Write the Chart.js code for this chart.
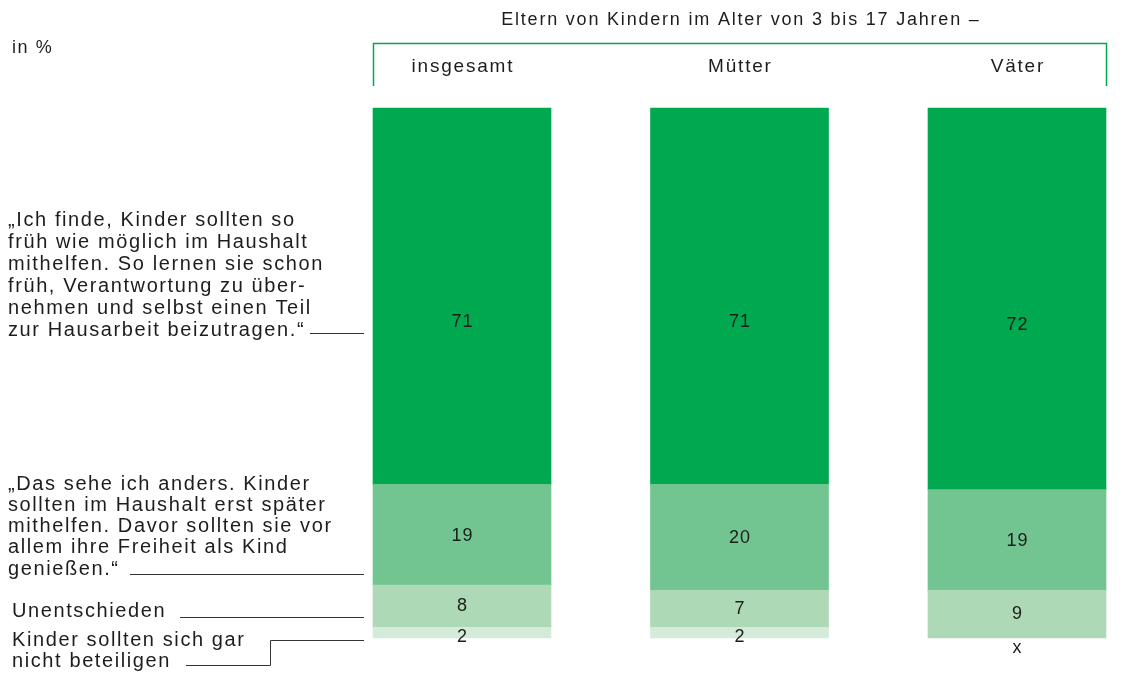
<!DOCTYPE html>
<html>
<head>
<meta charset="utf-8">
<script src="https://cdn.jsdelivr.net/npm/chart.js@4/dist/chart.umd.min.js"></script>
<style>
html,body{margin:0;padding:0;background:#fff;}
canvas{display:block;}
</style>
</head>
<body>
<canvas id="c" width="1140" height="673"></canvas>
<script>
// ---- data ----
const categories = ["insgesamt", "Mütter", "Väter"];
const headerTitle = "Eltern von Kindern im Alter von 3 bis 17 Jahren –";
const unitLabel = "in %";
const frueh = [71, 71, 72];
const anders = [19, 20, 19];
const unentschieden = [8, 7, 9];
const garNicht = [2, 2, null];
const missingMark = "x";
const labelFrueh = ["„Ich finde, Kinder sollten so", "früh wie möglich im Haushalt", "mithelfen. So lernen sie schon", "früh, Verantwortung zu über-", "nehmen und selbst einen Teil", "zur Hausarbeit beizutragen.“"];
const labelAnders = ["„Das sehe ich anders. Kinder", "sollten im Haushalt erst später", "mithelfen. Davor sollten sie vor", "allem ihre Freiheit als Kind", "genießen.“"];
const labelUnent = ["Unentschieden"];
const labelGarNicht = ["Kinder sollten sich gar", "nicht beteiligen"];

// ---- styles ----
const GREEN = "#00a84f";
const colors = ["#d4ebda", "#aed9b6", "#72c491", GREEN];
const FONT = "'Liberation Sans', Arial, sans-serif";
const TXT = "#1d1d1b";

function centerText(ctx, t, x, y, spacing) {
  ctx.letterSpacing = spacing + "px";
  const w = ctx.measureText(t).width - spacing;
  ctx.textAlign = "left";
  ctx.fillText(t, x - w / 2, y);
}

const overlay = {
  id: "overlay",
  afterDatasetsDraw(chart) {
    const ctx = chart.ctx;
    ctx.save();
    ctx.fillStyle = TXT;
    ctx.textBaseline = "middle";
    // value labels
    ctx.font = "18px " + FONT;
    const yOffsets = [4, 0, 1, 26];
    chart.data.datasets.forEach((ds, di) => {
      const meta = chart.getDatasetMeta(di);
      meta.data.forEach((el, i) => {
        const v = ds.data[i];
        if (v === null || v === undefined) {
          centerText(ctx, missingMark, el.x, el.base + 10, 1);
          return;
        }
        const mid = (el.y + el.base) / 2 + yOffsets[di];
        centerText(ctx, String(v), el.x, mid, 1);
      });
    });

    // header
    ctx.font = "18px " + FONT;
    centerText(ctx, headerTitle, 740, 20, 1.8);
    const m0 = chart.getDatasetMeta(0).data;
    ctx.font = "19px " + FONT;
    categories.forEach((c, i) => {
      centerText(ctx, c, m0[i].x, 67, 1.8);
    });
    ctx.strokeStyle = GREEN;
    ctx.lineWidth = 1.5;
    ctx.beginPath();
    ctx.moveTo(373.5, 86);
    ctx.lineTo(373.5, 43.5);
    ctx.lineTo(1106.5, 43.5);
    ctx.lineTo(1106.5, 86);
    ctx.stroke();

    // left text
    ctx.textAlign = "left";
    ctx.letterSpacing = "1.6px";
    ctx.font = "18px " + FONT;
    ctx.fillText(unitLabel, 12, 48);
    ctx.font = "20px " + FONT;
    labelFrueh.forEach((t, i) => ctx.fillText(t, 8, 220 + i * 22));
    labelAnders.forEach((t, i) => ctx.fillText(t, 8, 484 + i * 21.3));
    labelUnent.forEach((t) => ctx.fillText(t, 12, 611));
    labelGarNicht.forEach((t, i) => ctx.fillText(t, 12, 640 + i * 21));

    // leader lines
    ctx.strokeStyle = "#333";
    ctx.lineWidth = 1;
    ctx.beginPath();
    ctx.moveTo(310, 333.5); ctx.lineTo(364, 333.5);
    ctx.moveTo(130, 574.5); ctx.lineTo(364, 574.5);
    ctx.moveTo(180, 617.5); ctx.lineTo(364, 617.5);
    ctx.moveTo(186, 665.5); ctx.lineTo(270.5, 665.5); ctx.lineTo(270.5, 640.5); ctx.lineTo(364, 640.5);
    ctx.stroke();
    ctx.restore();
  }
};

const series = [garNicht, unentschieden, anders, frueh];
new Chart(document.getElementById("c"), {
  type: "bar",
  data: {
    labels: categories,
    datasets: series.map((d, i) => ({
      data: d,
      backgroundColor: colors[i],
      borderWidth: 0,
      barThickness: 178,
      clip: false
    }))
  },
  options: {
    responsive: false,
    animation: false,
    layout: { padding: { left: 462, right: 123, top: 108, bottom: 35 } },
    plugins: { legend: { display: false }, tooltip: { enabled: false } },
    scales: {
      x: { stacked: true, display: false, offset: false, grid: { display: false } },
      y: { stacked: true, display: false, min: 0, max: 100, grid: { display: false } }
    }
  },
  plugins: [overlay]
});
</script>
</body>
</html>
